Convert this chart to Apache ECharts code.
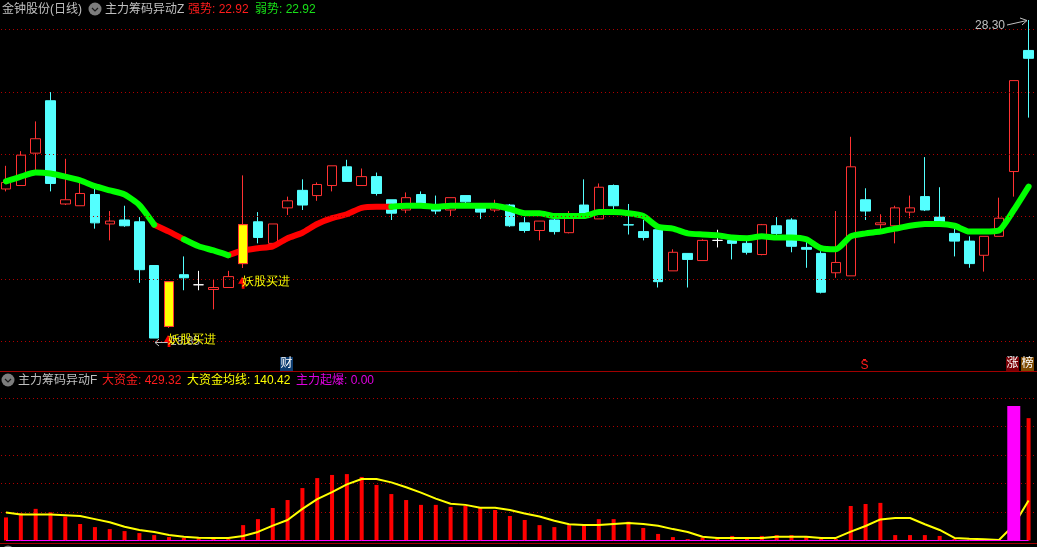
<!DOCTYPE html>
<html>
<head>
<meta charset="utf-8">
<style>html,body{margin:0;padding:0;background:#000}#c{width:1037px;height:547px}</style>
<script src="https://cdn.jsdelivr.net/npm/echarts@6/dist/echarts.min.js"></script>
</head>
<body>
<div id="c"></div>
<script>
// [open, close, low, high]
const candles = [
[22.85,23.04,22.78,23.53],[22.95,23.85,22.95,23.97],[23.91,24.35,23.27,24.89],[25.55,23.01,22.78,25.83],
[22.42,22.54,22.39,23.74],[22.37,22.72,22.37,23.04],[22.69,21.89,21.73,22.87],[21.86,21.94,21.41,22.22],
[21.97,21.81,21.78,22.37],[21.92,20.63,20.29,22.05],[20.74,18.92,18.92,20.74],[19.20,20.32,19.17,20.32],
[20.50,20.42,20.10,20.98],[20.24,20.24,20.10,20.60],[20.12,20.17,19.62,20.39],[20.17,20.45,20.17,20.60],
[20.79,21.84,20.68,23.24],[21.92,21.49,21.33,22.19],[21.33,21.86,21.33,21.86],[22.31,22.51,22.11,22.63],
[22.81,22.39,22.25,23.13],[22.66,22.98,22.51,23.04],[22.95,23.53,22.78,23.53],[23.50,23.07,23.07,23.71],
[22.95,23.21,22.95,23.45],[23.21,22.72,22.66,23.33],[22.54,22.16,21.97,22.54],[22.25,22.60,22.16,22.75],
[22.69,22.42,22.39,22.78],[22.39,22.22,22.13,22.66],[22.25,22.60,22.08,22.60],[22.66,22.48,22.42,22.66],
[22.39,22.19,22.00,22.39],[22.25,22.39,22.19,22.54],[22.39,21.81,21.78,22.42],[21.89,21.68,21.62,22.05],
[21.68,21.94,21.41,21.94],[21.97,21.65,21.57,22.08],[21.62,22.11,21.60,22.22],[22.39,22.05,22.02,23.13],
[22.00,22.90,22.00,23.01],[22.95,22.37,22.25,22.98],[21.84,21.83,21.57,22.42],[21.65,21.49,21.41,21.97],
[21.70,20.32,20.17,21.70],[20.60,21.09,20.60,21.17],[21.06,20.90,20.17,21.06],[20.87,21.41,20.87,21.44],
[21.41,21.41,21.22,21.70],[21.41,21.33,20.90,21.52],[21.33,21.09,21.03,21.41],[21.03,21.84,21.01,21.86],
[21.81,21.60,21.55,22.05],[21.97,21.25,21.09,22.02],[21.22,21.17,20.68,21.44],[21.06,20.05,20.02,21.12],
[20.55,20.82,20.42,22.22],[20.47,23.50,20.47,24.41],[22.54,22.22,21.97,22.87],[21.84,21.89,21.68,22.13],
[21.81,22.31,21.33,22.37],[22.19,22.31,22.02,22.66],[22.63,22.25,22.22,23.79],[22.05,21.89,21.86,22.90],
[21.60,21.39,20.98,21.84],[21.39,20.79,20.68,21.52],[21.01,21.52,20.58,21.52],[21.52,22.02,21.52,22.60],
[23.36,26.21,22.63,26.21],[27.23,26.96,25.01,28.30]
];
const whiteDoji = [13, 48];
const buyIndex = [11, 16];
const buyPrice = [18.85, 20.29];
const trendLine = [
23.07,23.21,23.33,23.30,23.21,23.10,22.93,22.81,22.69,22.39,
21.84,21.65,21.44,21.25,21.14,21.01,21.14,21.20,21.25,21.47,
21.62,21.86,22.02,22.13,22.31,22.34,22.34,22.37,22.37,22.34,
22.37,22.37,22.37,22.37,22.28,22.16,22.16,22.08,22.08,22.08,
22.19,22.19,22.16,22.08,21.78,21.73,21.60,21.57,21.55,21.49,
21.47,21.52,21.49,21.49,21.44,21.20,21.17,21.52,21.60,21.65,
21.73,21.81,21.86,21.86,21.81,21.65,21.65,21.68,22.25,22.92
];
// index ranges [from, to] of the red (strong) stretches of the trend line
const strongRanges = [[10, 12], [15, 26]];
const mainGridPrices = [27.962, 25.818, 23.869, 22.067, 20.376, 18.838];
const bigMoney = [
81,95,111,99,84,58,47,40,33,26,19,12,9,8,5,5,54,75,114,142,
184,219,230,233,223,195,163,142,125,125,118,122,116,107,86,72,54,47,54,54,
75,75,66,44,23,12,5,10,9,16,8,16,19,19,12,5,5,121,128,132,
19,19,19,16,5,4,4,4,2,429.32
];
const bigMoneyMA = [
98,91,91,91,89,86,75,64,48,37,30,19,13,10,9,9,16,30,52,72,
111,145,170,197,216,216,204,187,168,147,129,125,115,115,107,95,84,69,57,54,
54,58,61,58,52,40,30,13,9,9,9,9,13,13,13,9,9,31,51,74,
79,79,57,37,9,6,4,2,54,140.42
];
const burst = candles.map(() => 0);
const burstBarIndex = 68, burstBarValue = 472;
const categories = candles.map((_, i) => String(i + 1));

const RED = '#ff3232', CYAN = '#54ffff', GRAY = '#c0c0c0';
const FONT = '12px "Liberation Sans","Noto Sans CJK SC",sans-serif';
const DOT = '#b00000';
const GL = -1.4, GR = 1;

function candleStyle(d, i) {
  let c = d[1] > d[0] ? RED : CYAN;
  if (whiteDoji.includes(i)) c = '#ffffff';
  const fill = c === RED ? '#000' : c;
  return {color: fill, color0: fill, borderColor: c, borderColor0: c, borderColorDoji: c, borderWidth: 1};
}
const strongData = trendLine.map((v, i) => strongRanges.some(r => i >= r[0] && i <= r[1]) ? v : '-');
const weakData = trendLine.map((v, i) => strongRanges.some(r => i > r[0] && i < r[1]) ? '-' : v);

function txt(x, y, text, fill, extra) {
  return Object.assign({type: 'text', x, y, silent: true, z: 20,
    style: {text, fill, font: FONT, align: 'left', verticalAlign: 'middle'}}, extra || {});
}
function poly(points, stroke, w, z) {
  return {type: 'polyline', silent: true, z: z === undefined ? 20 : z, shape: {points}, style: {stroke, fill: 'none', lineWidth: w || 1}};
}
function rect(x, y, w, h, fill) {
  return {type: 'rect', silent: true, z: 19, shape: {x, y, width: w, height: h}, style: {fill}};
}
function icon(cx, cy) {
  return [
    {type: 'circle', silent: true, z: 20, shape: {cx, cy, r: 6.5}, style: {fill: '#7c7c7c'}},
    poly([[cx - 3, cy - 1], [cx, cy + 2], [cx + 3, cy - 1]], '#1a1a1a', 1.2, 21)
  ];
}
const graphics = [
  poly([[0, 371.5], [1037, 371.5]], '#a00000', 1, 18),
  poly([[0, 543.5], [1037, 543.5]], '#a00000', 1, 18),
  txt(2, 10, '金钟股份(日线)', GRAY),
  ...icon(95, 9),
  txt(105, 10, '主力筹码异动Z', GRAY),
  txt(188, 10, '强势: 22.92', '#ff1c1c'),
  txt(255, 10, '弱势: 22.92', '#18e018'),
  ...icon(8, 380),
  txt(18, 381, '主力筹码异动F', GRAY),
  txt(102, 381, '大资金: 429.32', '#ff1c1c'),
  txt(187, 381, '大资金均线: 140.42', '#ffff00'),
  txt(296, 381, '主力起爆: 0.00', '#e000e0'),
  {type: 'circle', silent: true, z: 20, shape: {cx: 8, cy: 552, r: 6.5}, style: {fill: '#7c7c7c'}},
  txt(975, 26, '28.30', GRAY),
  poly([[1007, 25], [1027, 20.5]], GRAY),
  poly([[1020, 18], [1027, 20.5], [1022, 25]], GRAY),
  txt(170, 342, '18.85', '#a8a8a8', {z: 1}),
  poly([[155, 342.5], [172, 342.5]], GRAY, 1, 1),
  poly([[159, 339], [155, 342.5], [159, 346]], GRAY, 1, 1),
  rect(280, 357, 13, 14, '#0c3c70'),
  txt(280.5, 364, '财', '#ffffff'),
  txt(860.5, 365.5, 'S', '#ff1c1c'),
  poly([[863, 359.5], [866, 359.5]], '#ff1c1c'),
  rect(1006, 357, 13, 14, '#7a0006'),
  txt(1006.5, 364, '涨', '#ffffff'),
  rect(1021, 357, 13, 14, '#7f4a00'),
  txt(1021.5, 364, '榜', '#ffffff')
];

const option = {
  backgroundColor: '#000',
  animation: false,
  grid: [
    {left: GL, right: GR, top: 20, height: 351, outerBoundsMode: 'none'},
    {left: GL, right: GR, top: 369.5, height: 171, outerBoundsMode: 'none'}
  ],
  xAxis: [
    {type: 'category', gridIndex: 0, data: categories, show: false, boundaryGap: true},
    {type: 'category', gridIndex: 1, data: categories, show: false, boundaryGap: true},
    {type: 'category', gridIndex: 1, data: categories, show: false, boundaryGap: true}
  ],
  yAxis: [
    {type: 'log', logBase: 2.718281828, gridIndex: 0, min: 18.147, max: 28.30, show: false, scale: true},
    {type: 'value', gridIndex: 1, min: 0, max: 600, interval: 100,
      axisLabel: {show: false}, axisLine: {show: false}, axisTick: {show: false},
      splitLine: {show: true, showMinLine: false, showMaxLine: false,
        lineStyle: {color: DOT, width: 1, type: [1, 3], dashOffset: 1.6}}}
  ],
  graphic: graphics,
  series: [
    {type: 'candlestick', name: 'K线', xAxisIndex: 0, yAxisIndex: 0, barWidth: 10, z: 2,
      data: candles.map((d, i) => ({value: d, itemStyle: candleStyle(d, i)})),
      markLine: {silent: true, symbol: 'none', label: {show: false}, animation: false,
        lineStyle: {color: DOT, width: 1, type: [1, 3], dashOffset: 1.6},
        data: mainGridPrices.map(v => ({yAxis: v}))}},
    {type: 'line', name: '强势', xAxisIndex: 0, yAxisIndex: 0, data: strongData, z: 3, symbol: 'none',
      smooth: 0.2, lineStyle: {color: '#ff0000', width: 6, cap: 'round', join: 'round'}},
    {type: 'line', name: '弱势', xAxisIndex: 0, yAxisIndex: 0, data: weakData, z: 3, symbol: 'none',
      smooth: 0.2, lineStyle: {color: '#00ff00', width: 6, cap: 'round', join: 'round'}},
    {type: 'candlestick', name: '妖股买进', xAxisIndex: 0, yAxisIndex: 0, barWidth: 10, z: 4,
      itemStyle: {color: '#ffff00', color0: '#ffff00', borderColor: RED, borderColor0: RED, borderWidth: 1},
      data: candles.map((d, i) => buyIndex.includes(i) ? d : ['-', '-', '-', '-']),
      markPoint: {animation: false, silent: true,
        symbol: 'path://M4 0L8 7H6.4V12H3.6V7H0Z', symbolSize: [8, 12], symbolOffset: [-1, 0],
        itemStyle: {color: '#ff0000', borderWidth: 0},
        label: {show: true, position: 'right', distance: -4, offset: [0, -1], color: '#ffff00',
          font: FONT, formatter: '妖股买进'},
        data: buyIndex.map((ix, k) => ({coord: [ix, buyPrice[k]]}))}},
    {type: 'bar', name: '大资金', xAxisIndex: 1, yAxisIndex: 1, data: bigMoney, barWidth: 4, z: 2,
      itemStyle: {color: '#ff0000'}},
    {type: 'line', name: '大资金均线', xAxisIndex: 1, yAxisIndex: 1, data: bigMoneyMA, z: 3, symbol: 'none',
      lineStyle: {color: '#ffff00', width: 2}},
    {type: 'bar', name: '主力起爆', xAxisIndex: 2, yAxisIndex: 1, barWidth: 13, z: 4,
      data: burst.map((v, i) => i === burstBarIndex ? burstBarValue : '-'),
      itemStyle: {color: '#ff00ff'}},
    {type: 'line', name: '主力起爆线', xAxisIndex: 1, yAxisIndex: 1, data: burst, z: 5, symbol: 'none',
      lineStyle: {color: '#ff00ff', width: 1}}
  ]
};
const chart = echarts.init(document.getElementById('c'), null, {renderer: 'canvas'});
chart.setOption(option);
</script>
</body>
</html>
